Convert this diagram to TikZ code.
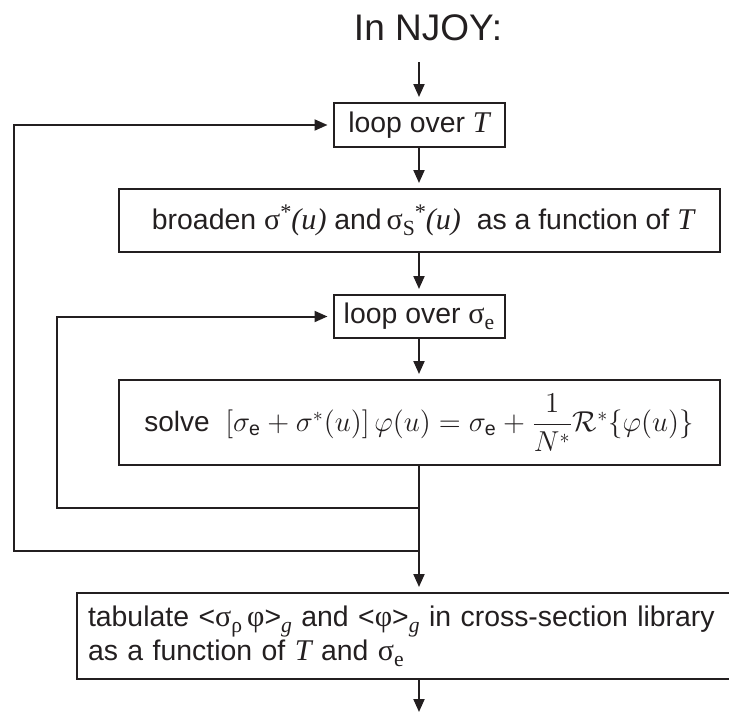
\documentclass[tikz,border=0pt]{standalone}
\usepackage{amsmath}
\usepackage{fontspec}
\setmainfont{Liberation Sans}
\newfontfamily\tmsfont[Scale=1.06]{Liberation Serif}
\usetikzlibrary{arrows.meta}
\definecolor{ink}{HTML}{231F20}
\newcommand\tmi[1]{{\tmsfont\itshape #1}}
\newcommand\tmr[1]{{\tmsfont #1}}
\newcommand\sbs[1]{\raisebox{-0.45ex}{\fontsize{10.2}{11}\selectfont #1}}
\newcommand\sps[1]{\raisebox{0.75ex}{\fontsize{10.5}{11}\selectfont #1}}
\tikzset{
  flow/.style={draw=ink, line width=1pt, -{Triangle[length=6.5pt,width=5.5pt]}, shorten >=2.5pt},
  boxnode/.style={draw=ink, line width=1pt, inner sep=0pt, text=ink},
}
\begin{document}
\begin{tikzpicture}[x=0.5pt,y=-0.5pt, font=\fontsize{14.2}{15.5}\selectfont]
\useasboundingbox (0,0) rectangle (729,713);
\clip (0,0) rectangle (729,713);
\node[font=\fontsize{18.5}{20}\selectfont, anchor=base, text=ink] (title) at (428,40) {In NJOY:};
\coordinate (top) at (419,62);
\coordinate (bot) at (419,712);
\node[boxnode, minimum width=85.5pt, minimum height=22pt] (b1) at (419,125) {loop over \tmi{T}};
\node[boxnode, minimum width=300.5pt, minimum height=31.5pt] (b2) at (419,220.5)
  {\hspace{4pt}broaden \tmr{σ\sps{*}\textit{(u)}} and\,\tmr{σ\sbs{S}\sps{*}\textit{(u)}} \ as a function of \tmi{T}};
\node[boxnode, minimum width=85.5pt, minimum height=21.5pt] (b3) at (419,316.5) {loop over \tmr{σ\sbs{e}}};
\node[boxnode, minimum width=300.5pt, minimum height=42.5pt, font=\fontsize{14}{16}\selectfont] (b4) at (419,422.5)
  {solve \ $[\sigma_{\mathrm{e}}+\sigma^*(u)]\,\varphi(u)=\sigma_{\mathrm{e}}+\dfrac{1}{N^*}\mathcal{R}^*\{\varphi(u)\}$};
\node[boxnode, minimum height=43pt, text width=331pt, align=left, inner xsep=5.5pt] (b5) at (419,636)
  {tabulate <\tmr{σ\sbs{ρ}\,φ}>\sbs{\tmi{g}} and <\tmr{φ}>\sbs{\tmi{g}} in cross-section library\\
   as a function of \tmi{T} and \tmr{σ\sbs{e}}};
\coordinate (j1) at (419,508);
\coordinate (j2) at (419,551);
\coordinate (c1) at (57,508);
\coordinate (c2) at (14,551);
\draw[flow] (top) -- (b1);
\draw[flow] (b1) -- (b2);
\draw[flow] (b2) -- (b3);
\draw[flow] (b3) -- (b4);
\draw[flow] (b4) -- (b5);
\draw[flow, shorten >=0pt] (b5) -- (bot);
\draw[flow] (j1) -- (c1) |- (b3.west);
\draw[flow] (j2) -- (c2) |- (b1.west);
\end{tikzpicture}
\end{document}
